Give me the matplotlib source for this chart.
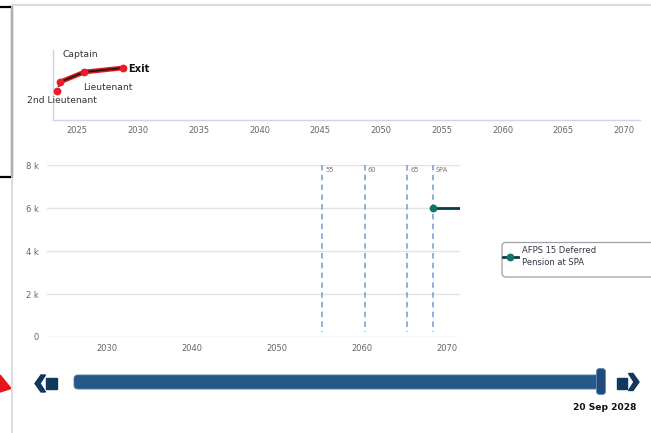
import matplotlib
matplotlib.use('Agg')
import matplotlib.pyplot as plt
from matplotlib.patches import FancyBboxPatch, Polygon, Rectangle

W, H = 651, 433

# career timeline (top chart)
career_years = [2023.35, 2023.58, 2025.58, 2028.72]
career_level = [2.9, 3.8, 4.8, 5.2]
career_labels = ['2nd Lieutenant', 'Lieutenant', 'Captain', 'Exit']
top_ticks = list(range(2025, 2071, 5))

# pension chart
age_years = [2055.3, 2060.3, 2065.3, 2068.3]
age_labels = ['55', '60', '65', 'SPA']
pension_years = [2068.3, 2072.0]
pension_value = [6000, 6000]
pension_name = 'AFPS 15 Deferred\nPension at SPA'
bottom_ticks = [2030, 2040, 2050, 2060, 2070]
y_ticks = [0, 2000, 4000, 6000, 8000]
y_tick_labels = ['0', '2 k', '4 k', '6 k', '8 k']
exit_date = '20 Sep 2028'

GREY = '#666666'


def px_box(x0, y0, x1, y1):
    # pixel box (top-left origin) -> figure fraction rect
    return [x0 / W, 1 - y1 / H, (x1 - x0) / W, (y1 - y0) / H]


fig = plt.figure(figsize=(W / 100, H / 100), dpi=100)

# background layer in pixel coordinates for the page furniture
bg = fig.add_axes([0, 0, 1, 1], zorder=0)
bg.set_xlim(0, W)
bg.set_ylim(H, 0)
bg.axis('off')
bg.plot([12, W], [5, 5], color='#dcdcdc', lw=1.5)
bg.plot([11.5, 11.5], [5, H], color='#d4d4d4', lw=1.2)
bg.add_patch(Rectangle((-5, 7), 17, 170, fill=False, edgecolor='black', lw=1.6))
bg.add_patch(Polygon([(0, 375), (11, 388.5), (0, 392)], closed=True, color='#e8141b'))

# slider
bg.add_patch(FancyBboxPatch((74, 375), 530, 14, boxstyle='round,pad=0,rounding_size=4',
                            facecolor='#265888', edgecolor='#4a7aa8', lw=0.6))
bg.add_patch(FancyBboxPatch((596.5, 368.5), 9, 26, boxstyle='round,pad=0,rounding_size=3',
                            facecolor='#1f4c78', edgecolor='#5f8cb8', lw=0.6))
navy = '#12375c'
bg.add_patch(Rectangle((46, 378), 11, 11, color=navy))
bg.add_patch(Polygon([(35, 383.5), (41, 375), (45.5, 375), (40, 383.5), (45.5, 392), (41, 392)],
                     closed=True, color=navy))
bg.add_patch(Rectangle((617, 377.5), 10, 11, color=navy))
bg.add_patch(Polygon([(639, 382), (633, 373.5), (628.5, 373.5), (634, 382), (628.5, 390.5), (633, 390.5)],
                     closed=True, color=navy))
bg.text(605, 407, exit_date, ha='center', va='center', fontsize=6.6, fontweight='bold', color='#111111')

# legend frame
bg.add_patch(FancyBboxPatch((502, 242.5), 160, 34.5, boxstyle='round,pad=0,rounding_size=4',
                            facecolor='white', edgecolor='#a0a0a0', lw=0.9))

# ---- top chart: career timeline
ax1 = fig.add_axes(px_box(53, 50, 640, 120), zorder=2)
ax1.patch.set_alpha(0)
ax1.set_xlim(2023.0, 2071.3)
ax1.set_ylim(0, 7)
for s in ['top', 'right']:
    ax1.spines[s].set_visible(False)
for s in ['left', 'bottom']:
    ax1.spines[s].set_color('#ccd6eb')
    ax1.spines[s].set_linewidth(1)
ax1.set_yticks([])
ax1.set_xticks(top_ticks)
ax1.tick_params(axis='x', length=0, pad=4.5, labelsize=6, labelcolor=GREY)

ax1.plot(career_years[:2], career_level[:2], color='#111111', lw=1.3, ls=(0, (1.2, 1.2)))
ax1.plot(career_years[1:], career_level[1:], color='#e8141b', lw=3.4, solid_capstyle='round')
ax1.plot(career_years[1:], career_level[1:], color='#1a1a1a', lw=1.3)
ax1.plot(career_years, career_level, 'o', color='#ee1c25', ms=4.6, zorder=5, clip_on=False)

offsets = [(4.7, -9.3), (48, -5.3), (-4.3, 17), (5.7, -1)]
for i, lab in enumerate(career_labels):
    bold = lab == 'Exit'
    ax1.annotate(lab, (career_years[i], career_level[i]), xytext=offsets[i],
                 textcoords='offset pixels', ha='left' if bold else 'center', va='center',
                 fontsize=7.1 if bold else 6.6, fontweight='bold' if bold else 'normal',
                 color='#111111' if bold else '#333333', annotation_clip=False)

# ---- bottom chart: pension
ax2 = fig.add_axes(px_box(47, 165, 460, 337), zorder=2)
ax2.patch.set_alpha(0)
ax2.set_xlim(2022.9, 2071.5)
ax2.set_ylim(0, 8000)
for s in ax2.spines.values():
    s.set_visible(False)
ax2.set_yticks(y_ticks)
ax2.set_yticklabels(y_tick_labels)
ax2.set_xticks(bottom_ticks)
ax2.grid(axis='y', color='#e3e3e3', lw=1)
ax2.set_axisbelow(True)
ax2.tick_params(axis='both', length=0, labelsize=6, labelcolor=GREY)
ax2.tick_params(axis='x', pad=5)
ax2.tick_params(axis='y', pad=6)

ax2.vlines(age_years, 8000, 230, colors='#6e9bd6', lw=1.1, linestyles=(0, (3.6, 2.8)))
for yr, lab in zip(age_years, age_labels):
    ax2.annotate(lab, (yr, 7770), xytext=(3, 0), textcoords='offset pixels',
                 ha='left', va='center', fontsize=4.8, color='#777777')

line, = ax2.plot(pension_years, pension_value, color='#0b3b46', lw=2.0, marker='o',
                 markevery=[0], ms=4.6, markerfacecolor='#137565', markeredgecolor='#137565',
                 label=pension_name, zorder=4)

leg = fig.legend(handles=[line], loc='upper left', bbox_to_anchor=(503 / W, 1 - 246 / H),
                 frameon=False, fontsize=6, handlelength=1.8, handletextpad=0.5,
                 borderpad=0, borderaxespad=0, labelcolor='#333344')
for t in leg.get_texts():
    t.set_linespacing(1.45)

fig.savefig('out.png', dpi=100)
